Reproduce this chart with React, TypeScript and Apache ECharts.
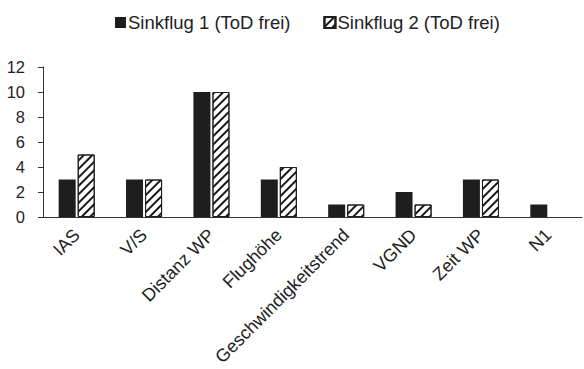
import React, { useEffect, useRef } from "react";
import * as echarts from "echarts";

const categories = ["IAS", "V/S", "Distanz WP", "Flughöhe", "Geschwindigkeitstrend", "VGND", "Zeit WP", "N1"];
const series1Name = "Sinkflug 1 (ToD frei)";
const series2Name = "Sinkflug 2 (ToD frei)";
const series1 = [3, 3, 10, 3, 1, 2, 3, 1];
const series2 = [5, 3, 10, 4, 1, 1, 3, 0];

const FONT = "'Liberation Sans', Arial, sans-serif";

const hatch = {
  symbol: "rect",
  color: "#1a1a1a",
  backgroundColor: "#ffffff",
  dashArrayX: [1, 0],
  dashArrayY: [1.2, 3.3],
  rotation: -Math.PI / 4,
  symbolSize: 1,
};

export default function App() {
  const ref = useRef<HTMLDivElement>(null);
  useEffect(() => {
    if (!ref.current) return;
    const chart = echarts.init(ref.current, null, { renderer: "svg" });
    chart.setOption({
      animation: false,
      textStyle: { fontFamily: FONT },
      legend: {
        top: 8,
        left: 110,
        itemWidth: 11,
        itemHeight: 11,
        itemGap: 33,
        textStyle: { fontFamily: FONT, fontSize: 18.5, color: "#222", padding: [0, 0, 0, -3] },
        data: [
          { name: series1Name, icon: "rect" },
          { name: series2Name, icon: "rect" },
        ],
      },
      grid: { left: 43, right: 2, top: 67, bottom: 152, containLabel: false },
      xAxis: {
        type: "category",
        data: categories,
        axisLine: { show: true, lineStyle: { color: "#333", width: 1 } },
        axisTick: { show: false },
        axisLabel: {
          rotate: 45,
          interval: 0,
          margin: 15,
          padding: [10, 0, 0, 0],
          fontFamily: FONT,
          fontSize: 18,
          color: "#222",
        },
      },
      yAxis: {
        type: "value",
        min: 0,
        max: 12,
        interval: 2,
        axisLine: { show: true, lineStyle: { color: "#333", width: 1 } },
        axisTick: { show: true, length: 5, lineStyle: { color: "#333" } },
        splitLine: { show: false },
        axisLabel: { fontFamily: FONT, fontSize: 16.5, color: "#222", margin: 18 },
      },
      series: [
        {
          name: series1Name,
          type: "bar",
          data: series1,
          barWidth: 17,
          barGap: "12%",
          itemStyle: { color: "#1e1e1e" },
        },
        {
          name: series2Name,
          type: "bar",
          data: series2.map((v) => (v === 0 ? { value: v, itemStyle: { borderWidth: 0 } } : v)),
          barWidth: 17,
          itemStyle: {
            color: "#ffffff",
            borderColor: "#1e1e1e",
            borderWidth: 1,
            decal: hatch,
          },
        },
      ],
    });
    return () => chart.dispose();
  }, []);
  return (
    <div
      ref={ref}
      style={{ position: "fixed", left: 0, top: 0, width: 584, height: 369, background: "#fff" }}
    />
  );
}
